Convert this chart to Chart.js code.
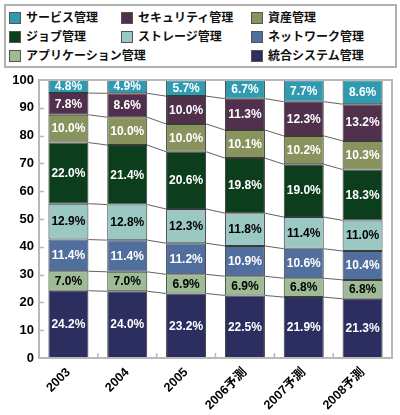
<!DOCTYPE html>
<html><head><meta charset="utf-8">
<script src="https://cdn.jsdelivr.net/npm/chart.js@4.4.1/dist/chart.umd.min.js"></script>
<style>
html,body{margin:0;padding:0;background:#fff;}
#wrap{position:relative;width:400px;height:415px;}
#c{position:absolute;left:0;top:0;}
#legend{position:absolute;left:4px;top:4px;width:389px;height:60px;border:2px solid #b0b0b0;background:#fff;}
.li{position:absolute;font:bold 12px "Liberation Sans","Noto Sans CJK JP",sans-serif;color:#111;white-space:nowrap;line-height:14px;}
.sw{display:inline-block;width:12px;height:12px;vertical-align:-2px;margin-right:5px;box-sizing:border-box;border:1px solid #555;}
</style></head>
<body><div id="wrap"><canvas id="c" width="400" height="415"></canvas><div id="legend"></div></div>
<script>
const years = ['2003','2004','2005','2006予測','2007予測','2008予測'];
const seriesNames = ['統合システム管理','アプリケーション管理','ネットワーク管理','ストレージ管理','ジョブ管理','資産管理','セキュリティ管理','サービス管理'];
const seriesColors = ['#2b2e5e','#9dbb95','#516f9d','#9cc8c4','#0c3e1d','#88935e','#50304c','#2f9bb0'];
const labelColors = ['#fff','#000','#fff','#000','#fff','#fff','#fff','#fff'];
const v_togo    = [24.2, 24.0, 23.2, 22.5, 21.9, 21.3];
const v_app     = [7.0, 7.0, 6.9, 6.9, 6.8, 6.8];
const v_net     = [11.4, 11.4, 11.2, 10.9, 10.6, 10.4];
const v_storage = [12.9, 12.8, 12.3, 11.8, 11.4, 11.0];
const v_job     = [22.0, 21.4, 20.6, 19.8, 19.0, 18.3];
const v_asset   = [10.0, 10.0, 10.0, 10.1, 10.2, 10.3];
const v_sec     = [7.8, 8.6, 10.0, 11.3, 12.3, 13.2];
const v_service = [4.8, 4.9, 5.7, 6.7, 7.7, 8.6];
const seriesValues = [v_togo, v_app, v_net, v_storage, v_job, v_asset, v_sec, v_service];
const yTicks = [0,10,20,30,40,50,60,70,80,90,100];

// legend layout: [series index, col, row]
const legendItems = [[7,0,0],[6,1,0],[5,2,0],[4,0,1],[3,1,1],[2,2,1],[1,0,2],[0,2,2]];
const colX = [3,115,245], rowY = [5,24,43];
const lg = document.getElementById('legend');
legendItems.forEach(([si,c,r])=>{
  const d=document.createElement('div'); d.className='li';
  d.style.left=colX[c]+'px'; d.style.top=rowY[r]+'px';
  d.innerHTML='<span class="sw" style="background:'+seriesColors[si]+'"></span>'+seriesNames[si];
  lg.appendChild(d);
});

const FONT = '"Liberation Sans","Noto Sans CJK JP",sans-serif';
const deco = {
  id:'deco',
  afterDatasetsDraw(chart){
    const {ctx, chartArea:a, scales:{x,y}} = chart;
    ctx.save();
    ctx.beginPath(); ctx.rect(a.left,a.top,a.right-a.left,a.bottom-a.top); ctx.clip();
    ctx.strokeStyle='#3a3a3a'; ctx.lineWidth=0.8;
    chart.data.datasets.forEach((ds,di)=>{
      const meta=chart.getDatasetMeta(di);
      for(let i=0;i<meta.data.length-1;i++){
        const b0=meta.data[i], b1=meta.data[i+1];
        ctx.beginPath();
        ctx.moveTo(b0.x+b0.width/2, b0.y);
        ctx.lineTo(b1.x-b1.width/2, b1.y);
        ctx.stroke();
      }
    });
    ctx.font='bold 12px '+FONT;
    ctx.textAlign='center'; ctx.textBaseline='middle';
    chart.data.datasets.forEach((ds,di)=>{
      const meta=chart.getDatasetMeta(di);
      meta.data.forEach((b,i)=>{
        const top=Math.max(b.y,a.top), bot=b.base;
        ctx.fillStyle=labelColors[di];
        ctx.fillText(ds.data[i].toFixed(1)+'%', b.x, (top+bot)/2+0.5);
      });
    });
    ctx.restore();
    // frame
    ctx.save();
    ctx.strokeStyle='#b8b8b8'; ctx.lineWidth=2;
    ctx.strokeRect(a.left,a.top,a.right-a.left,a.bottom-a.top);
    ctx.lineWidth=1.5;
    yTicks.forEach(t=>{
      if(t===0||t===100) return;
      const py=Math.round(y.getPixelForValue(t))+0.5;
      ctx.beginPath(); ctx.moveTo(a.left,py); ctx.lineTo(a.left+5,py); ctx.stroke();
    });
    for(let i=0;i<years.length-1;i++){
      const px=(x.getPixelForValue(i)+x.getPixelForValue(i+1))/2;
      ctx.beginPath(); ctx.moveTo(px,a.bottom); ctx.lineTo(px,a.bottom-5); ctx.stroke();
    }
    ctx.restore();
  }
};

new Chart(document.getElementById('c'), {
  type:'bar',
  data:{
    labels:years,
    datasets:seriesNames.map((n,i)=>({
      label:n, data:seriesValues[i], backgroundColor:seriesColors[i],
      borderColor:'#3a3a3a', borderWidth:1, borderSkipped:false,
      categoryPercentage:1, barPercentage:0.68
    }))
  },
  options:{
    responsive:false, animation:false,
    layout:{padding:{top:80,right:8,left:0,bottom:0}},
    plugins:{legend:{display:false},tooltip:{enabled:false}},
    scales:{
      x:{stacked:true, grid:{display:false,drawTicks:false}, border:{display:false},
         ticks:{color:'#000',font:{family:FONT,size:12.5,weight:'bold'},maxRotation:45,minRotation:45,padding:7},
         afterFit(s){s.height=57;}},
      y:{stacked:true, min:0, max:100, grid:{display:false,drawTicks:false}, border:{display:false},
         ticks:{stepSize:10,color:'#000',font:{family:FONT,size:13,weight:'bold'},padding:5},
         afterFit(s){s.width=39;}}
    }
  },
  plugins:[deco]
});
</script></body></html>
